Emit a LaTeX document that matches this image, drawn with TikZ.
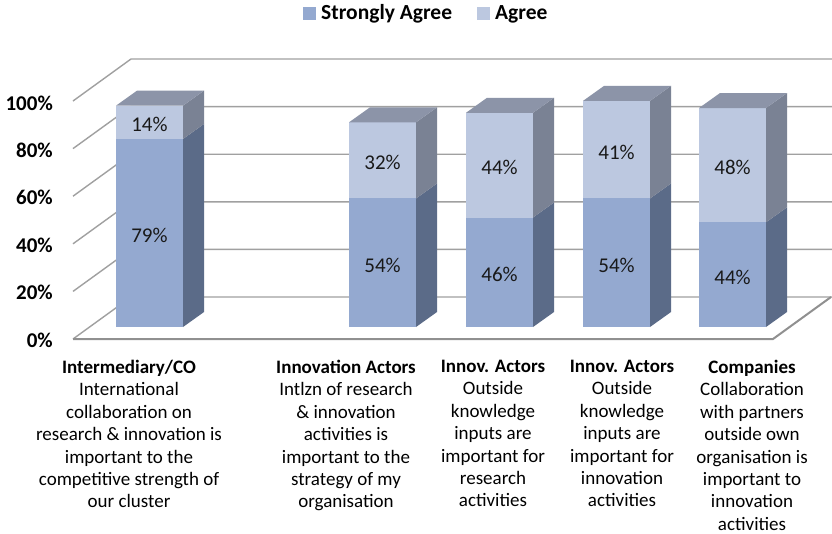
\documentclass[tikz,border=0pt]{standalone}
\usepackage{fontspec}
\setmainfont{Carlito}
\definecolor{safront}{HTML}{94A9D0}
\definecolor{saside}{HTML}{5B6B88}
\definecolor{afront}{HTML}{BCC8E0}
\definecolor{aside}{HTML}{7A8294}
\definecolor{atop}{HTML}{8C94A8}
\definecolor{gridc}{HTML}{A0A0A0}
\tikzset{
  gridline/.style={draw=gridc, line width=1.4pt},
  flooredge/.style={draw=gridc!90!black, line width=2pt},
  ticklabel/.style={anchor=base east, inner sep=0pt, font=\fontsize{21}{25}\selectfont\bfseries},
  datalabel/.style={inner sep=0pt, font=\fontsize{21}{25}\selectfont, text=black!90},
  catlabel/.style={anchor=north, inner sep=0pt, align=center, font=\fontsize{19}{22.4}\selectfont},
  legendtext/.style={anchor=base west, inner sep=0pt, font=\fontsize{21.5}{25}\selectfont\bfseries},
}
\newcommand{\chartbar}[5]{% #1 name, #2 x, #3 strongly agree, #4 agree
  \pgfmathsetmacro{\yb}{327}
  \pgfmathsetmacro{\ys}{327-2.38*#3}
  \pgfmathsetmacro{\yt}{327-2.38*(#3+#4)}
  \pgfmathsetmacro{\xr}{#2+67}
  \fill[safront] (#2,\yb) rectangle (\xr,\ys);
  \fill[afront] (#2,\ys) rectangle (\xr,\yt);
  \fill[saside] (\xr,\yb) -- (\xr+21,\yb-15) -- (\xr+21,\ys-15) -- (\xr,\ys) -- cycle;
  \fill[aside] (\xr,\ys) -- (\xr+21,\ys-15) -- (\xr+21,\yt-15) -- (\xr,\yt) -- cycle;
  \fill[atop] (#2,\yt) -- (\xr,\yt) -- (\xr+21,\yt-15) -- (#2+21,\yt-15) -- cycle;
  \node[datalabel] (#1sa) at (#2+33.5,{(\yb+\ys)/2+2.5}) {#3\%};
  \node[datalabel] (#1a) at (#2+33.5,{(\ys+\yt)/2+2.5}) {#4\%};
}
\begin{document}
\begin{tikzpicture}[x=1pt,y=-1pt]
\useasboundingbox (0,0) rectangle (832,533);
\fill[white] (0,0) rectangle (832,533);
% legend
\fill[safront] (303,7) rectangle (316,20);
\node[legendtext] (lsa) at (321,19) {Strongly Agree};
\fill[afront] (477,7) rectangle (490,20);
\node[legendtext] (la) at (495,19) {Agree};
% grid
\foreach \i in {0,...,5} {
  \pgfmathsetmacro{\fy}{339-47.6*\i}
  \pgfmathsetmacro{\by}{297-47.6*\i}
  \draw[gridline] (73,\fy) -- (131,\by) -- (832,\by);
}
\draw[flooredge] (73,339) -- (773,339) -- (831,297);
% tick labels
\node[ticklabel] (t0) at (53,347) {0\%};
\node[ticklabel] (t20) at (53,299.5) {20\%};
\node[ticklabel] (t40) at (53,252) {40\%};
\node[ticklabel] (t60) at (53,204.5) {60\%};
\node[ticklabel] (t80) at (53,157) {80\%};
\node[ticklabel] (t100) at (53,110) {100\%};
% bars
\chartbar{b1}{116}{79}{14}{}
\chartbar{b2}{349}{54}{32}{}
\chartbar{b3}{466}{46}{44}{}
\chartbar{b4}{583}{54}{41}{}
\chartbar{b5}{699}{44}{48}{}
% category labels
\node[catlabel] (c1) at (129,360) {\textbf{Intermediary/CO}\\International\\collaboration on\\research \& innovation is\\important to the\\competitive strength of\\our cluster};
\node[catlabel] (c2) at (346,360) {\textbf{Innovation Actors}\\Intlzn of research\\\& innovation\\activities is\\important to the\\strategy of my\\organisation};
\node[catlabel] (c3) at (493,360) {\textbf{Innov. Actors}\\Outside\\knowledge\\inputs are\\important for\\research\\activities};
\node[catlabel] (c4) at (622,360) {\textbf{Innov. Actors}\\Outside\\knowledge\\inputs are\\important for\\innovation\\activities};
\node[catlabel] (c5) at (752,360) {\textbf{Companies}\\Collaboration\\with partners\\outside own\\organisation is\\important to\\innovation\\activities};
\end{tikzpicture}
\end{document}
